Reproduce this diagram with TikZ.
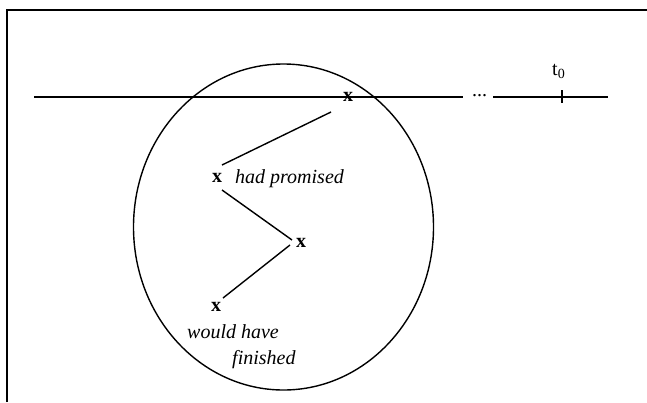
\documentclass[tikz,border=0pt]{standalone}
\usepackage{fontspec}
\setmainfont{Liberation Serif}
\begin{document}
\begin{tikzpicture}[x=1pt,y=-1pt,
  xm/.style={font=\fontsize{20}{22}\selectfont\bfseries, inner sep=0pt},
  lbl/.style={font=\fontsize{20}{22}\selectfont\itshape, inner sep=0pt, anchor=base west},
  plain/.style={font=\fontsize{20}{22}\selectfont, inner sep=0pt, anchor=base west},
  conn/.style={line width=1.4pt},
  axis/.style={line width=1.1pt}]
\useasboundingbox (0,0) rectangle (647,402);
% frame
\draw[line width=2pt] (7,402) -- (7,10) -- (647,10);
% ellipse
\draw[line width=1.4pt] (283.5,227) ellipse [x radius=150pt, y radius=163pt];
% time line
\coordinate (L0) at (34,97);
\coordinate (L1) at (463,97);
\coordinate (R0) at (493,97);
\coordinate (R1) at (608,97);
\coordinate (T0) at (562,90);
\coordinate (T1) at (562,103);
\draw[axis] (L0) -- (L1);
\draw[axis] (R0) -- (R1);
\draw[axis] (T0) -- (T1);
\node[plain] (dots) at (472,96) {...};
\node[plain] (t0) at (552,75) {t\textsubscript{0}};
% x marks
\node[xm] (x1) at (348,97) {x};
\node[xm] (x2) at (217,178) {x};
\node[xm] (x3) at (301,243) {x};
\node[xm] (x4) at (216,307) {x};
% labels
\node[lbl] (hp) at (235,183) {had promised};
\node[lbl] (wh) at (187,338) {would have};
\node[lbl] (fin) at (232,364) {finished};
% connectors
\coordinate (a1) at (331,112);
\coordinate (a2) at (222,165);
\coordinate (b1) at (222,190);
\coordinate (b2) at (292,240);
\coordinate (c1) at (290,245);
\coordinate (c2) at (223,298);
\draw[conn] (a1) -- (a2);
\draw[conn] (b1) -- (b2);
\draw[conn] (c1) -- (c2);
\end{tikzpicture}
\end{document}
